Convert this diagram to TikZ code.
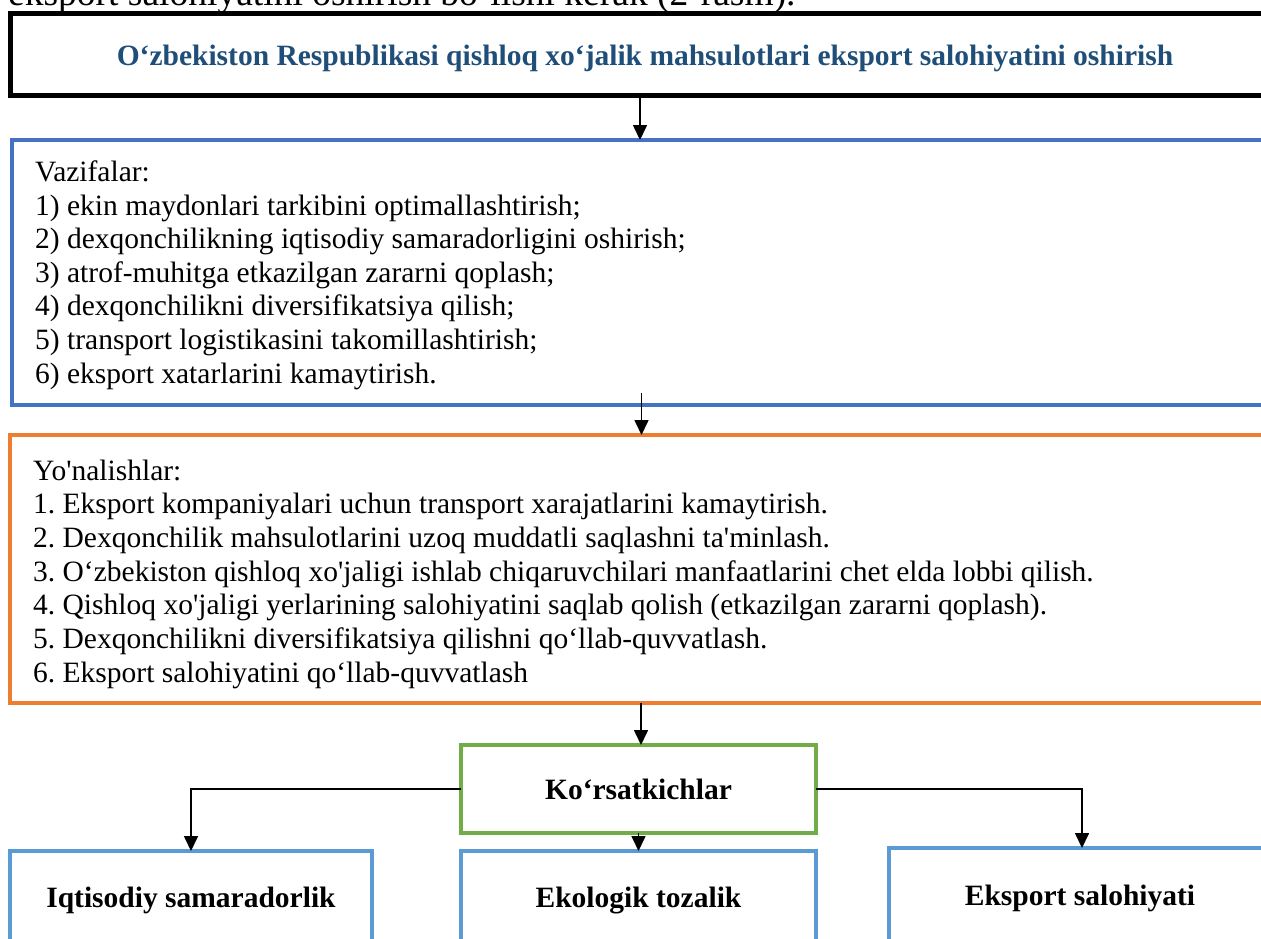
\documentclass[tikz,border=0pt]{standalone}
\usepackage{fontspec}
\setmainfont{Liberation Serif}
\usetikzlibrary{arrows.meta}
\definecolor{titleblue}{HTML}{1F4E79}
\definecolor{taskblue}{HTML}{4472C4}
\definecolor{dirorange}{HTML}{ED7D31}
\definecolor{indgreen}{HTML}{70AD47}
\definecolor{resblue}{HTML}{5B9BD5}
\newcommand{\qsq}{\textquotesingle}
\begin{document}
\frenchspacing
\begin{tikzpicture}[x=1pt,y=-1pt,
  frame/.style={draw, fill=none, inner sep=0pt, outer sep=0pt},
  blackframe/.style={frame, draw=black, line width=5pt},
  taskframe/.style={frame, draw=taskblue, line width=4pt},
  dirframe/.style={frame, draw=dirorange, line width=4pt},
  indframe/.style={frame, draw=indgreen, line width=4.5pt},
  resframe/.style={frame, draw=resblue, line width=4pt},
  body/.style={font=\fontsize{29.5}{33.6}\selectfont, inner sep=0pt, anchor=base west},
  boldtxt/.style={font=\fontsize{29.5}{33.6}\selectfont\bfseries, inner sep=0pt, anchor=base},
  lead/.style={font=\fontsize{37.5}{42}\selectfont, inner sep=0pt, anchor=base west},
  arr/.style={draw=black, line width=1.6pt, -{Triangle[length=15pt,width=14pt]}}
]
\useasboundingbox (0,0) rectangle (1261,938);
\clip (0,0) rectangle (1261,938);

% leading sentence (cut off at the top, as in the reference)
\node[lead] (leadtext) at (8,5) {eksport salohiyatini oshirish bo‘lishi kerak (2-rasm).};

% top box
\node[blackframe, minimum width=1265pt, minimum height=82pt] (topbox) at (642.5,54) {};
\node[boldtxt, text=titleblue] (title) at (645,65) {O‘zbekiston Respublikasi qishloq xo‘jalik mahsulotlari eksport salohiyatini oshirish};

% tasks box
\node[taskframe, minimum width=1263pt, minimum height=265pt] (tasks) at (643.5,272.5) {};
\node[body] (t0) at (35,181.7) {Vazifalar:};
\node[body] (t1) at (35,215.3) {1) ekin maydonlari tarkibini optimallashtirish;};
\node[body] (t2) at (35,248.8) {2) dexqonchilikning iqtisodiy samaradorligini oshirish;};
\node[body] (t3) at (35,282.4) {3) atrof-muhitga etkazilgan zararni qoplash;};
\node[body] (t4) at (35,315.9) {4) dexqonchilikni diversifikatsiya qilish;};
\node[body] (t5) at (35,349.5) {5) transport logistikasini takomillashtirish;};
\node[body] (t6) at (35,383.0) {6) eksport xatarlarini kamaytirish.};

% directions box
\node[dirframe, minimum width=1265pt, minimum height=268pt] (dirs) at (642.5,569) {};
\node[body] (d0) at (33,480) {Yo\qsq nalishlar:};
\node[body] (d1) at (33,513.7) {1. Eksport kompaniyalari uchun transport xarajatlarini kamaytirish.};
\node[body] (d2) at (33,547.3) {2. Dexqonchilik mahsulotlarini uzoq muddatli saqlashni ta\qsq minlash.};
\node[body] (d3) at (33,581) {3. O‘zbekiston qishloq xo\qsq jaligi ishlab chiqaruvchilari manfaatlarini chet elda lobbi qilish.};
\node[body] (d4) at (33,614.7) {4. Qishloq xo\qsq jaligi yerlarining salohiyatini saqlab qolish (etkazilgan zararni qoplash).};
\node[body] (d5) at (33,648.3) {5. Dexqonchilikni diversifikatsiya qilishni qo‘llab-quvvatlash.};
\node[body] (d6) at (33,682) {6. Eksport salohiyatini qo‘llab-quvvatlash};

% indicators
\node[indframe, minimum width=355pt, minimum height=88pt, font=\fontsize{29.5}{33.6}\selectfont\bfseries] (ind) at (638.5,789) {Ko‘rsatkichlar};

% result boxes
\node[resframe, minimum width=362pt, minimum height=110pt] (r1) at (191,906) {};
\node[resframe, minimum width=355pt, minimum height=110pt] (r2) at (638.5,906) {};
\node[resframe, minimum width=386pt, minimum height=114pt] (r3) at (1082,905) {};
\node[boldtxt] (r1t) at (191,907) {Iqtisodiy samaradorlik};
\node[boldtxt] (r2t) at (638.5,907) {Ekologik tozalik};
\node[boldtxt] (r3t) at (1080,905) {Eksport salohiyati};

% connectors
\draw[arr] ([xshift=1.5pt]topbox.south -| ind.north) -- ([xshift=1.5pt]tasks.north -| ind.north);
\draw[arr] ([xshift=3pt,yshift=12pt]tasks.south -| ind.north) -- ([xshift=3pt]dirs.north -| ind.north);
\draw[arr] ([xshift=2.5pt]dirs.south -| ind.north) -- ([xshift=2.5pt]ind.north);
\draw[arr] (ind.south) -- (r2.north);
\draw[arr] (ind.west) -| (r1.north);
\draw[arr] (ind.east) -| (r3.north);
\end{tikzpicture}
\end{document}
